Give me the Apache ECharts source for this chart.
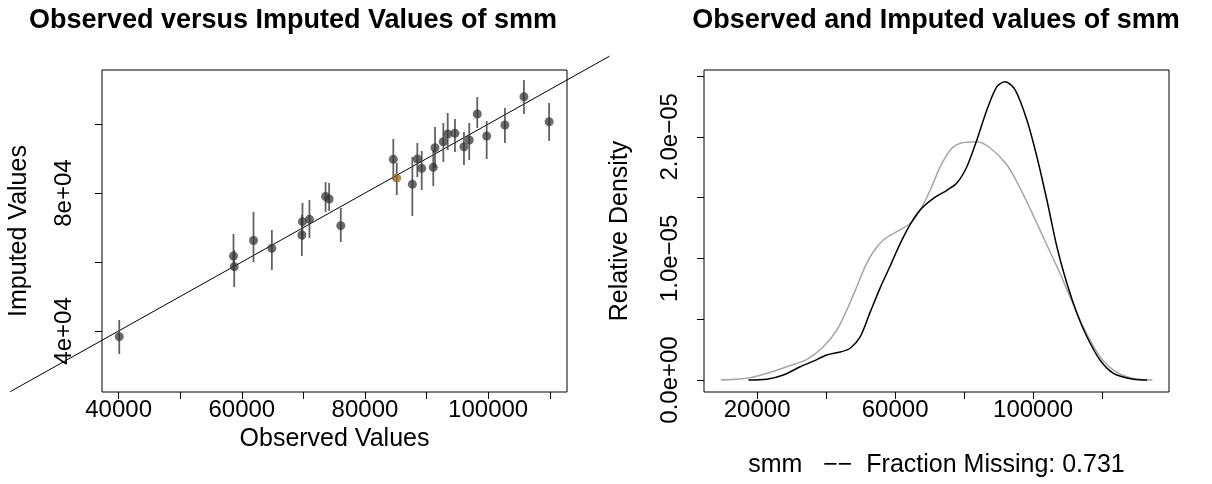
<!DOCTYPE html>
<html>
<head>
<meta charset="utf-8">
<script src="https://cdn.jsdelivr.net/npm/echarts@6/dist/echarts.min.js"></script>
<style>
html,body{margin:0;padding:0;background:#fff;}
#chart{width:1212px;height:484px;}
</style>
</head>
<body>
<div id="chart"></div>
<script>
// ---------- Left panel: observed vs imputed ----------
const obsX   = [40100, 58650, 58770, 61900, 64880, 69850, 69750, 70980, 73600, 74180, 76070, 84600, 85160, 87690, 88500, 89210, 91090, 91370, 92720, 93430, 94610, 96070, 96930, 98230, 99760, 102720, 105810, 109900];
const impY   = [38350, 61750, 58650, 66250, 63980, 71700, 67840, 72390, 79000, 78280, 70540, 89790, 84370, 82540, 89880, 87180, 87470, 93160, 94900, 97130, 97330, 93450, 95390, 102930, 96550, 99740, 107950, 100700];
const impLo  = [33330, 57690, 52760, 60010, 57690, 66390, 61750, 66970, 74510, 74800, 65810, 83790, 79440, 73350, 84660, 80890, 82050, 87270, 89010, 92490, 91910, 88140, 89590, 98870, 89880, 94520, 102930, 95100];
const impHi  = [43190, 68130, 63490, 74510, 69290, 77120, 73640, 77990, 83210, 82920, 75670, 95680, 88720, 90460, 94520, 92200, 92490, 99160, 100320, 103220, 101480, 97710, 100320, 107860, 100900, 104670, 112790, 106120];
const refLineX = [22400, 119700];          // ends of the y = x reference line
const leftXTicks = [40000, 50000, 60000, 70000, 80000, 90000, 100000, 110000];
const leftXLabels = [40000, 60000, 80000, 100000];
const leftYTicks = [40000, 60000, 80000, 100000];
const leftYLabelVals = [40000, 80000];
const leftYLabelText = ['4e+04', '8e+04'];

// ---------- Right panel: densities ----------
const blackX = [17500, 22800, 27600, 32500, 36300, 40200, 44100, 47000, 49900, 52800, 55700, 58600, 61500, 64400, 67300, 71100, 75000, 77900, 80800, 83700, 86600, 89500, 91900, 94800, 98200, 101100, 104000, 106900, 109800, 112700, 115600, 119400, 123300, 129100, 133000];
const blackY = [0, 0.06e-6, 0.41e-6, 1.09e-6, 1.55e-6, 2.06e-6, 2.3e-6, 2.61e-6, 3.56e-6, 5.6e-6, 7.6e-6, 9.4e-6, 11.24e-6, 12.8e-6, 14.0e-6, 14.94e-6, 15.6e-6, 16.2e-6, 17.54e-6, 19.74e-6, 22.2e-6, 24.12e-6, 24.52e-6, 23.85e-6, 21.38e-6, 18.36e-6, 14.8e-6, 10.96e-6, 7.95e-6, 5.49e-6, 3.56e-6, 1.64e-6, 0.55e-6, 0.06e-6, 0];
const greyX  = [9500, 17000, 22800, 28600, 34400, 39200, 43100, 46000, 48900, 51300, 53700, 56600, 60500, 64400, 67300, 70200, 73100, 76000, 78900, 83700, 87500, 92400, 96200, 100100, 104000, 107800, 110700, 113600, 116500, 119400, 123300, 128100, 134600];
const greyY  = [0, 0.14e-6, 0.55e-6, 1.09e-6, 1.7e-6, 2.74e-6, 4.11e-6, 5.76e-6, 7.67e-6, 9.32e-6, 10.55e-6, 11.51e-6, 12.2e-6, 12.89e-6, 13.98e-6, 15.63e-6, 17.54e-6, 18.92e-6, 19.47e-6, 19.6e-6, 19.1e-6, 17.7e-6, 15.8e-6, 13.5e-6, 11.1e-6, 8.77e-6, 6.85e-6, 4.93e-6, 3.29e-6, 1.92e-6, 0.82e-6, 0.19e-6, 0];
const rightXTicks = [20000, 40000, 60000, 80000, 100000, 120000];
const rightXLabels = [20000, 60000, 100000];
const rightYTicks = [0, 5e-6, 1e-5, 1.5e-5, 2e-5, 2.5e-5];
const rightYLabelVals = [0, 1e-5, 2e-5];
const rightYLabelText = ['0.0e+00', '1.0e\u221205', '2.0e\u221205'];

const titles = ['Observed versus Imputed Values of smm', 'Observed and Imputed values of smm'];
const xNames = ['Observed Values', 'smm   \u2212\u2212  Fraction Missing: 0.731'];
const yNames = ['Imputed Values', 'Relative Density'];

// ---------- styles ----------
const FONT = "'Liberation Sans', Arial, Helvetica, sans-serif";
const FS = 24;
const highlightIndex = 12;   // the point drawn in brown
const txt = { color: '#000', fontFamily: FONT, fontSize: FS };

function labelFmt(vals, texts) {
  return function (v) {
    for (let i = 0; i < vals.length; i++) if (Math.abs(vals[i] - v) < 1e-12) return texts[i];
    return '';
  };
}

function baseAxis(extra) {
  return Object.assign({
    type: 'value',
    axisLine: { show: false, onZero: false },
    splitLine: { show: false },
    nameLocation: 'middle',
    nameTextStyle: { color: '#000', fontFamily: FONT, fontSize: 25 }
  }, extra);
}

const chart = echarts.init(document.getElementById('chart'), null, { renderer: 'canvas' });

const titleStyle = { color: '#000', fontFamily: FONT, fontSize: 27, fontWeight: 'bold' };
const option = {
  backgroundColor: '#fff',
  animation: false,
  title: [
    { text: titles[0], left: 293, top: 7, padding: 0, textAlign: 'center', textStyle: titleStyle },
    { text: titles[1], left: 936, top: 7, padding: 0, textAlign: 'center', textStyle: titleStyle }
  ],
  grid: [
    { left: 102, top: 70, width: 465, height: 322, show: true, borderColor: '#000', borderWidth: 1, backgroundColor: 'transparent' },
    { left: 704, top: 70, width: 465, height: 322, show: true, borderColor: '#000', borderWidth: 1, backgroundColor: 'transparent' }
  ],
  xAxis: [
    baseAxis({
      gridIndex: 0, min: 37300, max: 112800,
      name: xNames[0], nameGap: 34,
      axisTick: { show: true, length: 7, lineStyle: { color: '#000' }, customValues: leftXTicks },
      axisLabel: Object.assign({ margin: 6, customValues: leftXLabels, formatter: v => String(v) }, txt)
    }),
    baseAxis({
      gridIndex: 1, min: 4600, max: 139400,
      name: xNames[1], nameGap: 61,
      axisTick: { show: true, length: 7, lineStyle: { color: '#000' }, customValues: rightXTicks },
      axisLabel: Object.assign({ margin: 6, customValues: rightXLabels, formatter: v => String(v) }, txt)
    })
  ],
  yAxis: [
    baseAxis({
      gridIndex: 0, min: 22300, max: 115700,
      name: yNames[0], nameGap: 70,
      axisTick: { show: true, length: 7, lineStyle: { color: '#000' }, customValues: leftYTicks },
      axisLabel: Object.assign({ margin: 26, rotate: 90, customValues: leftYLabelVals,
        formatter: labelFmt(leftYLabelVals, leftYLabelText) }, txt)
    }),
    baseAxis({
      gridIndex: 1, min: -0.987e-6, max: 2.5493e-5,
      name: yNames[1], nameGap: 71,
      axisTick: { show: true, length: 7, lineStyle: { color: '#000' }, customValues: rightYTicks },
      axisLabel: Object.assign({ margin: 22, rotate: 90, customValues: rightYLabelVals,
        formatter: labelFmt(rightYLabelVals, rightYLabelText) }, txt)
    })
  ],
  series: [
    {
      type: 'custom', xAxisIndex: 0, yAxisIndex: 0, silent: true, clip: false, z: 1,
      data: [[refLineX[0], refLineX[1]]],
      renderItem: function (params, api) {
        const a = api.value(0), b = api.value(1);
        const p1 = api.coord([a, a]);
        const p2 = api.coord([b, b]);
        return { type: 'line', shape: { x1: p1[0], y1: p1[1], x2: p2[0], y2: p2[1] },
                 style: { stroke: '#000', lineWidth: 1 } };
      }
    },
    {
      type: 'custom', xAxisIndex: 0, yAxisIndex: 0, silent: true, z: 2,
      data: obsX.map((x, i) => [x, impLo[i], impHi[i]]),
      renderItem: function (params, api) {
        const p1 = api.coord([api.value(0), api.value(1)]);
        const p2 = api.coord([api.value(0), api.value(2)]);
        return { type: 'line', shape: { x1: p1[0], y1: p1[1], x2: p2[0], y2: p2[1] },
                 style: { stroke: 'rgba(70,70,70,0.85)', lineWidth: 1.8 } };
      }
    },
    {
      type: 'scatter', xAxisIndex: 0, yAxisIndex: 0, silent: true, z: 3,
      symbol: 'circle', symbolSize: 9,
      itemStyle: { color: 'rgba(50,50,50,0.9)' },
      data: obsX.map((x, i) => i === highlightIndex
        ? { value: [x, impY[i]], itemStyle: { color: 'rgba(150,100,30,0.9)' } }
        : [x, impY[i]])
    },
    {
      type: 'line', xAxisIndex: 1, yAxisIndex: 1, silent: true, symbol: 'none', smooth: 0.3,
      lineStyle: { color: '#a6a6a6', width: 1.5 },
      data: greyX.map((x, i) => [x, greyY[i]])
    },
    {
      type: 'line', xAxisIndex: 1, yAxisIndex: 1, silent: true, symbol: 'none', smooth: 0.3,
      lineStyle: { color: '#000', width: 1.5 },
      data: blackX.map((x, i) => [x, blackY[i]])
    }
  ]
};
chart.setOption(option);
</script>
</body>
</html>
